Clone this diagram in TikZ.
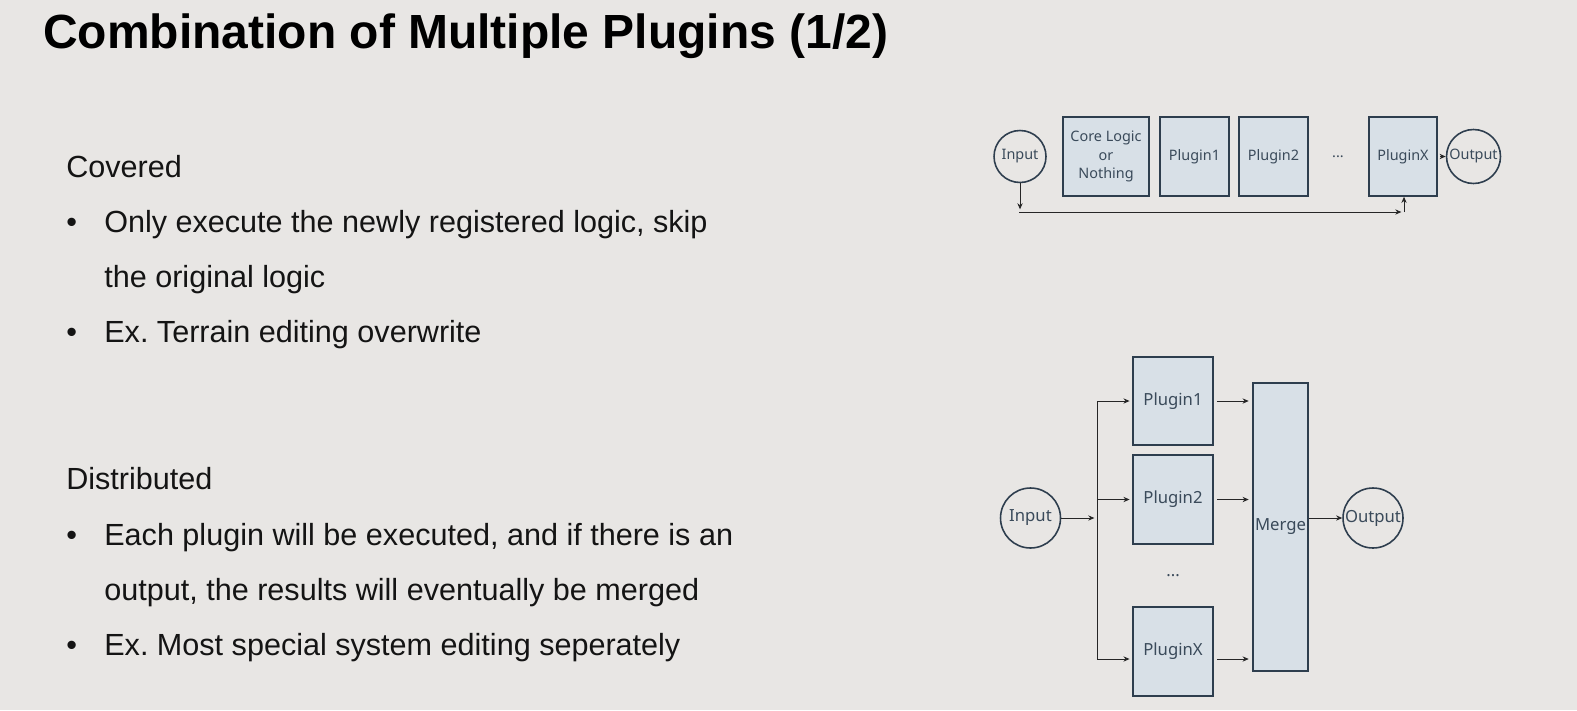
\documentclass[tikz,border=0pt]{standalone}
\usepackage{fontspec}
\setmainfont{Liberation Sans}
\newfontfamily\diagfont{Noto Sans}
\usetikzlibrary{arrows.meta}
\frenchspacing
\definecolor{slidebg}{HTML}{E8E6E4}
\definecolor{boxfill}{HTML}{D8E0E7}
\definecolor{boxline}{HTML}{2E3E4E}
\definecolor{boxtext}{HTML}{3A4A5A}
\definecolor{bodytext}{HTML}{141414}
\tikzset{
  box/.style={draw=boxline, fill=boxfill, line width=0.9pt, inner sep=0pt,
    text=boxtext, align=center},
  io/.style={circle, draw=boxline, fill=slidebg, line width=0.9pt, inner sep=0pt,
    text=boxtext},
  small/.style={font=\diagfont\fontsize{8.2}{10.5}\selectfont},
  big/.style={font=\diagfont\fontsize{9.5}{12}\selectfont},
  flow/.style={-{Stealth[length=3.5pt,width=3pt]}, line width=0.5pt, black!85},
  line/.style={anchor=base west, inner sep=0pt, text=bodytext,
    font=\fontsize{17.4}{20}\selectfont},
}
\begin{document}
\begin{tikzpicture}[x=0.02cm,y=-0.02cm]
  \fill[slidebg] (0,0) rectangle (1577,710);
  \useasboundingbox (0,0) rectangle (1577,710);
  % title and text
  \node[anchor=base west, inner sep=0pt, text=black, font=\bfseries\fontsize{27.3}{31}\selectfont] (title) at (43,48) {Combination of Multiple Plugins (1/2)};
  \node[line] (cov) at (66,177) {Covered};
  \node[line] (b1) at (66,232) {\textbullet};
  \node[line] (t1) at (104,232) {Only execute the newly registered logic, skip};
  \node[line] (t2) at (104,287) {the original logic};
  \node[line] (b2) at (66,342) {\textbullet};
  \node[line] (t3) at (104,342) {Ex. Terrain editing overwrite};
  \node[line] (dis) at (66,489) {Distributed};
  \node[line] (b3) at (66,545) {\textbullet};
  \node[line] (t4) at (104,545) {Each plugin will be executed, and if there is an};
  \node[line] (t5) at (104,600) {output, the results will eventually be merged};
  \node[line] (b4) at (66,655) {\textbullet};
  \node[line] (t6) at (104,655) {Ex. Most special system editing seperately};
  % covered chain
  \node[io, small, minimum size=1.04cm] (in1) at (1020,156.5) {Input};
  \node[box, small, minimum width=1.72cm, minimum height=1.58cm] (core) at (1106,156.5) {Core Logic\\or\\Nothing};
  \node[box, small, minimum width=1.38cm, minimum height=1.58cm] (pa) at (1194.5,156.5) {Plugin1};
  \node[box, small, minimum width=1.38cm, minimum height=1.58cm] (pb) at (1273.5,156.5) {Plugin2};
  \node[small, text=boxtext] (dots1) at (1338,156.5) {...};
  \node[box, small, minimum width=1.36cm, minimum height=1.58cm] (pxa) at (1403,156.5) {PluginX};
  \node[io, small, minimum size=1.08cm] (out1) at (1473.5,156.5) {Output};
  \coordinate (tl) at (1019,212);
  \coordinate (tr) at (1404,212);
  \draw[flow, shorten >=1.5pt] (in1.south) -- (in1.south |- tl);
  \draw[flow, shorten >=1.5pt] (tl) -- (tr);
  \draw[flow] (tr) -- (tr |- pxa.south);
  \draw[flow, shorten <=1.5pt] (pxa.east) -- (out1.west);
  % distributed
  \node[io, big, minimum size=1.2cm] (in2) at (1030.5,518) {Input};
  \coordinate (bus) at (1097,518);
  \coordinate (bt) at (1097,401);
  \coordinate (bm) at (1097,499.5);
  \coordinate (bb) at (1097,659);
  \node[box, big, minimum width=1.6cm, minimum height=1.76cm] (p1) at (1173,401) {Plugin1};
  \node[box, big, minimum width=1.6cm, minimum height=1.78cm] (p2) at (1173,499.5) {Plugin2};
  \node[big, text=boxtext] (dots2) at (1173,576) {...};
  \node[box, big, minimum width=1.6cm, minimum height=1.78cm] (px) at (1173,651.5) {PluginX};
  \node[box, big, minimum width=1.1cm, minimum height=5.76cm] (mg) at (1280.5,527) {Merge};
  \node[io, big, minimum size=1.2cm] (out2) at (1373,518) {Output};
  \draw[flow, shorten >=1.5pt] (in2.east) -- (bus);
  \draw[line width=0.5pt, black!85] (bt) -- (bb);
  \draw[flow, shorten >=1.5pt] (bt) -- (p1.west);
  \draw[flow, shorten >=1.5pt] (bm) -- (p2.west);
  \draw[flow, shorten >=1.5pt] (bb) -- (bb -| px.west);
  \draw[flow, shorten <=1.7pt, shorten >=2pt] (p1.east) -- (p1.east -| mg.west);
  \draw[flow, shorten <=1.7pt, shorten >=2pt] (p2.east) -- (p2.east -| mg.west);
  \draw[flow, shorten <=1.7pt, shorten >=2pt] (bb -| px.east) -- (bb -| mg.west);
  \draw[flow] (mg.east |- out2) -- (out2.west);
\end{tikzpicture}
\end{document}
